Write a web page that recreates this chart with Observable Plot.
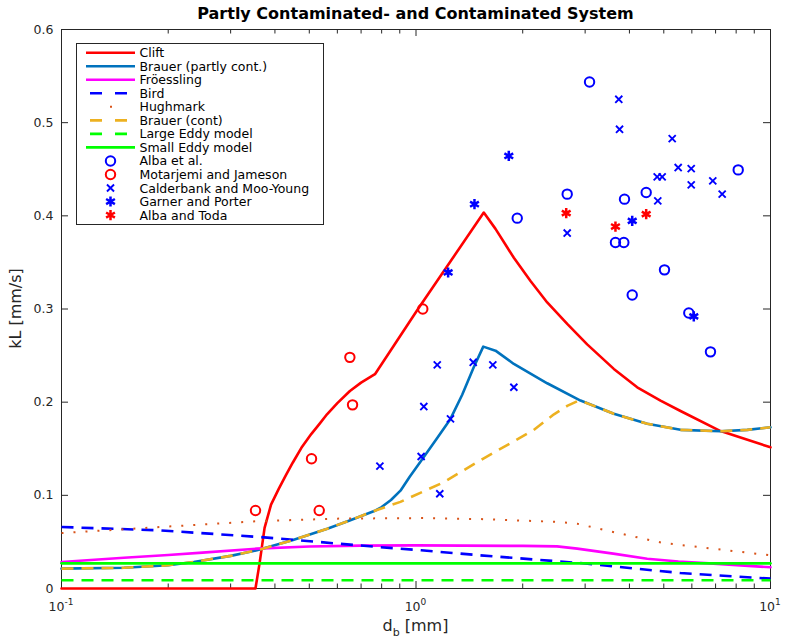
<!DOCTYPE html>
<html><head><meta charset="utf-8">
<script src="https://cdn.jsdelivr.net/npm/d3@7"></script>
<script src="https://cdn.jsdelivr.net/npm/@observablehq/plot@0.6"></script>
<style>
body{margin:0;background:#fff;}
#chart{width:786px;height:643px;}
</style>
</head><body><div id="chart"></div>
<script>
// ---------------- data ----------------
const titleText = "Partly Contaminated- and Contaminated System";
const xMajorTicks = [0.1, 1, 10];
const xMinorTicks = [0.2,0.3,0.4,0.5,0.6,0.7,0.8,0.9,2,3,4,5,6,7,8,9];
const xTickLabels = [["10","-1"],["10","0"],["10","1"]];
const yTicks = [0, 0.1, 0.2, 0.3, 0.4, 0.5, 0.6];

const clift = [[0.1,0],[0.3525,0],[0.362,0.027],[0.374,0.065],[0.39,0.090],[0.41,0.107],[0.43,0.122],[0.449,0.135],[0.475,0.151],[0.507,0.166],[0.535,0.177],[0.561,0.187],[0.60,0.199],[0.651,0.212],[0.70,0.221],[0.766,0.230],[1.013,0.300],[1.553,0.4035],[1.676,0.386],[1.888,0.355],[2.104,0.330],[2.345,0.307],[2.670,0.284],[3.04,0.262],[3.614,0.2357],[4.207,0.216],[4.895,0.2017],[5.574,0.1905],[7.23,0.169],[10,0.1515]];
const brauerPartly = [[0.1,0.0213],[0.15,0.0222],[0.2,0.025],[0.236,0.0284],[0.3,0.035],[0.356,0.041],[0.45,0.052],[0.562,0.0642],[0.65,0.073],[0.769,0.0838],[0.80,0.0874],[0.85,0.095],[0.904,0.105],[0.96,0.12],[1.034,0.137],[1.14,0.160],[1.251,0.182],[1.35,0.208],[1.453,0.237],[1.548,0.2596],[1.676,0.2553],[1.888,0.241],[2.345,0.2203],[2.911,0.2017],[3.614,0.1875],[4.49,0.1768],[5.574,0.1703],[7.23,0.1688],[8.6,0.1703],[10,0.173]];
const froessling = [[0.1,0.0284],[0.15,0.033],[0.2,0.036],[0.25,0.0385],[0.356,0.0428],[0.5,0.045],[0.7,0.046],[1.0,0.0463],[2.0,0.0457],[2.5,0.0452],[2.85,0.0428],[3.6,0.0374],[4.49,0.032],[5.5,0.029],[6.9,0.0267],[10,0.0228]];
const bird = [[0.1,0.066],[0.19,0.0624],[0.364,0.0552],[0.786,0.0445],[1.034,0.041],[1.52,0.0356],[2.91,0.0273],[5.57,0.0166],[10,0.0106]];
const hughmark = [[0.1,0.0595],[0.19,0.066],[0.364,0.0724],[0.6,0.075],[1.034,0.0756],[1.52,0.0745],[2.5,0.0715],[2.85,0.0695],[3.6,0.0606],[4.99,0.0488],[6.9,0.0427],[10,0.0356]];
const brauerCont = [[0.1,0.0213],[0.15,0.0222],[0.2,0.025],[0.236,0.0284],[0.3,0.035],[0.356,0.041],[0.45,0.052],[0.562,0.0642],[0.65,0.073],[0.769,0.0838],[0.904,0.093],[1.196,0.114],[1.549,0.1395],[2.145,0.170],[2.45,0.187],[2.67,0.196],[2.85,0.201],[2.911,0.2017],[3.614,0.1875],[4.49,0.1768],[5.574,0.1703],[7.23,0.1688],[8.6,0.1703],[10,0.173]];
const largeEddy = [[0.1,0.0088],[10,0.0088]];
const smallEddy = [[0.1,0.027],[10,0.027]];

const albaEtAl = [[3.087,0.5436],[2.670,0.4233],[1.930,0.3975],[3.874,0.4179],[4.460,0.425],[3.653,0.3714],[3.857,0.3714],[5.023,0.342],[4.073,0.315],[5.882,0.2957],[6.771,0.254],[8.108,0.4493]];
const motarjemi = [[0.3526,0.0838],[0.5073,0.1392],[0.5333,0.0838],[0.6508,0.2481],[0.6622,0.1971],[1.045,0.300]];
const calderbank = [[3.733,0.5251],[3.751,0.4929],[5.281,0.4829],[5.490,0.4518],[5.975,0.4507],[4.790,0.4418],[4.948,0.4418],[5.975,0.4332],[6.874,0.4375],[7.306,0.4233],[4.809,0.4161],[2.670,0.3815],[0.7909,0.1313],[1.148,0.240],[1.450,0.2428],[1.647,0.240],[1.888,0.216],[1.052,0.1953],[1.251,0.1821],[1.034,0.1417],[1.167,0.1017]];
const garnerPorter = [[1.462,0.4125],[1.232,0.3392],[1.827,0.4643],[4.073,0.3946],[6.076,0.2921]];
const albaToda = [[2.653,0.4029],[3.653,0.3885],[4.460,0.4018]];

const legendLabels = ["Clift","Brauer (partly cont.)","Fröessling","Bird","Hughmark","Brauer (cont)","Large Eddy model","Small Eddy model","Alba et al.","Motarjemi and Jameson","Calderbank and Moo-Young","Garner and Porter","Alba and Toda"];

// ---------------- styles ----------------
const AX = "#262626";
const W = 786, H = 643, mL = 61, mR = 16, mT = 29, mB = 55;
const fw = W - mL - mR, fh = H - mT - mB;
const LW = 2.6;
const lineStyles = [
  {stroke:"#FF0000"},
  {stroke:"#0072BD"},
  {stroke:"#FF00FF"},
  {stroke:"#0000FF", dash:"12,8"},
  {stroke:"#D95319", dash:"2,10", w:2},
  {stroke:"#EDB120", dash:"12,8"},
  {stroke:"#00FF00", dash:"12,8"},
  {stroke:"#00FF00"}
];
const lineData = [clift, brauerPartly, froessling, bird, hughmark, brauerCont, largeEddy, smallEddy];
const markerStyles = [
  {symbol:"circle", stroke:"#0000FF", r:4.7, w:2},
  {symbol:"circle", stroke:"#FF0000", r:4.7, w:2},
  {symbol:"times", stroke:"#0000FF", r:3.3, w:1.9},
  {symbol:"asterisk", stroke:"#0000FF", r:4.8, w:2.5},
  {symbol:"asterisk", stroke:"#FF0000", r:4.8, w:2.5}
];
const markerData = [albaEtAl, motarjemi, calderbank, garnerPorter, albaToda];

const X = d => d[0], Y = d => d[1];

const marks = [
  Plot.frame({stroke: AX, strokeWidth: 1, fill: "none"}),
  // inward box ticks (bottom/top for x, left/right for y)
  Plot.tickX(xMajorTicks, {x: d => d, insetTop: fh - 7, stroke: AX}),
  Plot.tickX(xMajorTicks, {x: d => d, insetBottom: fh - 7, stroke: AX}),
  Plot.tickX(xMinorTicks, {x: d => d, insetTop: fh - 4.5, stroke: AX}),
  Plot.tickX(xMinorTicks, {x: d => d, insetBottom: fh - 4.5, stroke: AX}),
  Plot.tickY(yTicks, {y: d => d, insetRight: fw - 7, stroke: AX}),
  Plot.tickY(yTicks, {y: d => d, insetLeft: fw - 7, stroke: AX}),
  Plot.axisY({ticks: yTicks, tickSize: 0, tickPadding: 8, tickFormat: d => String(d), label: null, fill: AX})
];
lineData.forEach((data, i) => {
  const s = lineStyles[i];
  marks.push(Plot.line(data, {x: X, y: Y, stroke: s.stroke, strokeWidth: s.w || LW,
    strokeDasharray: s.dash, strokeLinecap: s.dash ? "butt" : "round", strokeLinejoin: "round"}));
});
markerData.forEach((data, i) => {
  const s = markerStyles[i];
  marks.push(Plot.dot(data, {x: X, y: Y, symbol: s.symbol, r: s.r, stroke: s.stroke, strokeWidth: s.w, fill: "none"}));
});

const plot = Plot.plot({
  width: W, height: H,
  marginLeft: mL, marginRight: mR, marginTop: mT, marginBottom: mB,
  x: {type: "log", domain: [0.1, 10], axis: null},
  y: {domain: [0, 0.6]},
  style: "font-family: 'DejaVu Sans', sans-serif; font-size: 12.5px; color: #262626; background: #fff; overflow: visible;",
  marks
});
document.getElementById("chart").appendChild(plot);

// ---------------- annotations ----------------
const svg = d3.select(plot);
const xs = plot.scale("x");
const x0 = mL, x1 = W - mR, yb = H - mB, yt = mT;

// x tick labels with superscripts
const xl = svg.append("g").attr("fill", AX).attr("font-size", 12.5);
xMajorTicks.forEach((v, i) => {
  const t = xl.append("text").attr("x", xs.apply(v)).attr("y", 611).attr("text-anchor", "middle");
  t.append("tspan").text(xTickLabels[i][0]);
  t.append("tspan").attr("font-size", 9).attr("dy", -6).text(xTickLabels[i][1]);
});
// axis labels
const xlab = svg.append("text").attr("x", (x0 + x1) / 2).attr("y", 631).attr("text-anchor", "middle").attr("fill", AX).attr("font-size", 16);
xlab.append("tspan").text("d");
xlab.append("tspan").attr("font-size", 11).attr("dy", 5).text("b");
xlab.append("tspan").attr("dy", -5).text(" [mm]");
svg.append("text").attr("transform", `translate(21,${(yt + yb) / 2}) rotate(-90)`).attr("text-anchor", "middle")
  .attr("fill", AX).attr("font-size", 16).text("kL [mm/s]");
// title
svg.append("text").attr("x", (x0 + x1) / 2).attr("y", 19).attr("text-anchor", "middle")
  .attr("font-weight", "bold").attr("font-size", 16).attr("fill", "#000").text(titleText);

// legend
const lg = svg.append("g");
lg.append("rect").attr("x", 76.5).attr("y", 43.5).attr("width", 247).attr("height", 181)
  .attr("fill", "#fff").attr("stroke", AX).attr("stroke-width", 1);
const symMap = {circle: d3.symbolCircle, times: d3.symbolTimes, asterisk: d3.symbolAsterisk};
legendLabels.forEach((lab, i) => {
  const y = 52.7 + i * 13.53;
  if (i < lineStyles.length) {
    const s = lineStyles[i];
    lg.append("line").attr("x1", 86).attr("x2", 135).attr("y1", y).attr("y2", y)
      .attr("stroke", s.stroke).attr("stroke-width", s.w || LW)
      .attr("stroke-dasharray", s.dash ? (i === 4 ? "2,30" : "12,13") : null)
      .attr("stroke-dashoffset", i === 4 ? -24 : (s.dash ? -4 : 0))
      .attr("stroke-linecap", "butt");
  } else {
    const s = markerStyles[i - lineStyles.length];
    if (s.symbol === "circle") {
      lg.append("circle").attr("cx", 110.5).attr("cy", y).attr("r", s.r).attr("fill", "none")
        .attr("stroke", s.stroke).attr("stroke-width", s.w);
    } else {
      lg.append("path").attr("transform", `translate(110.5,${y})`)
        .attr("d", d3.symbol(symMap[s.symbol], s.r * s.r * Math.PI)())
        .attr("fill", "none").attr("stroke", s.stroke).attr("stroke-width", s.w);
    }
  }
  lg.append("text").attr("x", 139.5).attr("y", y).attr("dy", "0.36em").attr("fill", "#000")
    .attr("text-anchor", "start").attr("font-size", 12.5).text(lab);
});
</script>
</body></html>
